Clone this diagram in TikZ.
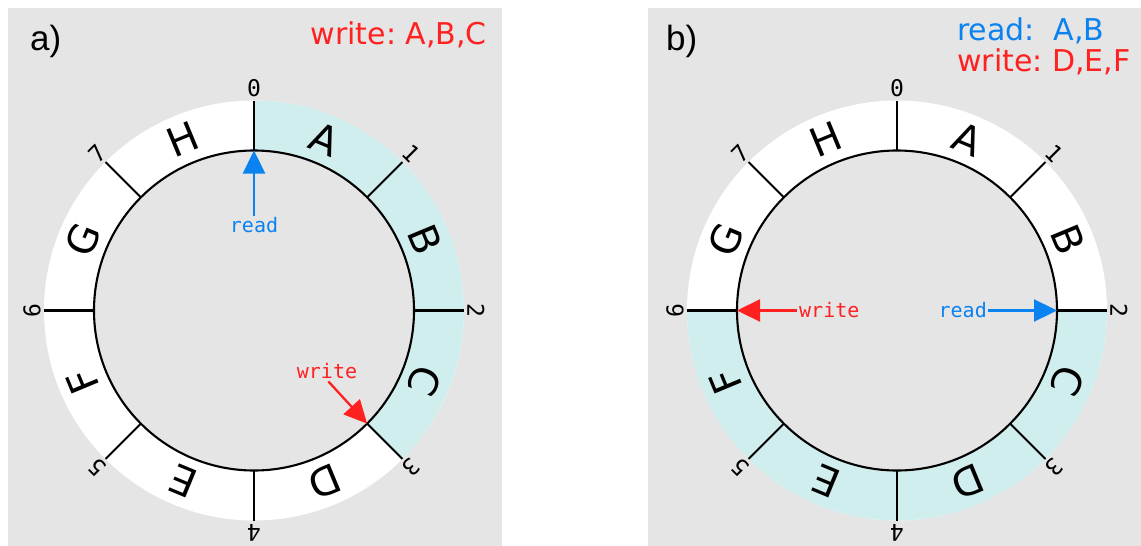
\documentclass[tikz,border=0pt]{standalone}
\usepackage{fontspec}
\setmainfont{DejaVu Sans}
\newfontfamily\monof{DejaVu Sans Mono}
\newfontfamily\arialf{Liberation Sans}
\usetikzlibrary{arrows.meta,calc}
\definecolor{bggray}{RGB}{229,229,229}
\definecolor{ringcyan}{RGB}{209,238,238}
\definecolor{rdblue}{RGB}{10,130,240}
\definecolor{wrred}{RGB}{255,32,32}
\frenchspacing
\begin{document}
\begin{tikzpicture}[x=1pt,y=1pt,
  panel/.style={fill=bggray},
  ringline/.style={line width=2.1pt, black},
  ticklabel/.style={font=\monof\fontsize{23}{23}\selectfont, inner sep=0pt},
  slotlabel/.style={font=\fontsize{40}{40}\selectfont, inner sep=0pt},
  ptrlabel/.style={font=\monof\fontsize{20}{20}\selectfont, inner sep=1pt},
  ptrarrow/.style={line width=2.3pt, -{Triangle[length=23pt,width=22pt]}},
  paneltitle/.style={font=\arialf\fontsize{35}{35}\selectfont, inner sep=0pt, anchor=base west},
  legend/.style={font=\fontsize{30}{30}\selectfont, inner sep=0pt}
]
\useasboundingbox (0,0) rectangle (1141,-546);
\fill[panel] (8,-8) rectangle (502,-546);
\fill[panel] (648,-8) rectangle (1141,-546);

\coordinate (cA) at (254,-310.5);
\coordinate (cB) at (897,-310.5);

% white rings
\foreach \c in {cA,cB} {
  \fill[white, even odd rule] (\c) circle[radius=210] (\c) circle[radius=160];
}
% cyan sectors
\fill[ringcyan] ($(cA)+(90:210)$) arc[start angle=90,end angle=-45,radius=210]
  -- ($(cA)+(-45:160)$) arc[start angle=-45,end angle=90,radius=160] -- cycle;
\fill[ringcyan] ($(cB)+(0:210)$) arc[start angle=0,end angle=-180,radius=210]
  -- ($(cB)+(-180:160)$) arc[start angle=-180,end angle=0,radius=160] -- cycle;

% circles, ticks, numbers, slot letters
\foreach \c in {cA,cB} {
  \draw[ringline] (\c) circle[radius=160];
  \foreach \k in {0,...,7} {
    \pgfmathsetmacro\ang{90-45*\k}
    \draw[ringline] ($(\c)+(\ang:160)$) -- ($(\c)+(\ang:210)$);
    \node[ticklabel, rotate=\ang-90] (\c-d\k) at ($(\c)+(\ang:222)$) {\k};
  }
  \foreach \l [count=\i from 0] in {A,B,C,D,E,F,G,H} {
    \pgfmathsetmacro\sang{67.5-45*\i}
    \node[slotlabel, rotate=\sang-90] (\c-s\l) at ($(\c)+(\sang:185)$) {\l};
  }
}

% titles and legends
\node[paneltitle] (ta) at (30,-50) {a)};
\node[paneltitle] (tb) at (666,-50.6) {b)};
\node[legend, anchor=base east, text=wrred] (wa) at (487,-44) {write: A,B,C};
\node[legend, anchor=base west, text=rdblue] (rb) at (957,-40) {read:\ \ A,B};
\node[legend, anchor=base west, text=wrred] (wb) at (957,-71.7) {write: D,E,F};

% pointers panel a
\node[ptrlabel, text=rdblue] (readA) at (254,-225) {read};
\coordinate (readAtip) at ($(cA)+(90:160)$);
\draw[ptrarrow, rdblue] (readA.north) -- (readAtip);
\node[ptrlabel, text=wrred] (writeA) at (327,-371) {write};
\coordinate (writeAtip) at ($(cA)+(-45:160)$);
\draw[ptrarrow, wrred, shorten <=2pt] (writeA.south) -- (writeAtip);

% pointers panel b
\node[ptrlabel, text=wrred, anchor=west, inner sep=2pt] (writeB) at (797,-310.5) {write};
\coordinate (writeBtip) at ($(cB)+(180:160)$);
\draw[ptrarrow, wrred] (writeB.west) -- (writeBtip);
\node[ptrlabel, text=rdblue, anchor=east, inner sep=1pt] (readB) at (988,-310.5) {read};
\coordinate (readBtip) at ($(cB)+(0:160)$);
\draw[ptrarrow, rdblue] (readB.east) -- (readBtip);
\end{tikzpicture}
\end{document}
